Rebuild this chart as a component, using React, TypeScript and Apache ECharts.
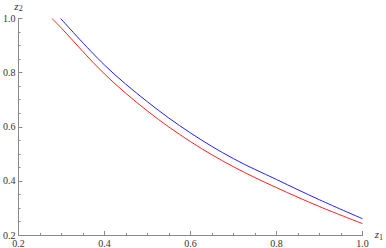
import React, { useEffect, useRef } from "react";
import * as echarts from "echarts";

const redX = [0.278, 0.3, 0.4, 0.5, 0.6, 0.7, 0.8, 0.9, 1.0];
const redY = [1.0, 0.964, 0.795, 0.658, 0.545, 0.452, 0.375, 0.305, 0.242];
const blueX = [0.298, 0.4, 0.5, 0.6, 0.7, 0.8, 0.9, 1.0];
const blueY = [1.0, 0.828, 0.692, 0.577, 0.482, 0.405, 0.33, 0.26];

const serif = "serif";
const axisColor = "#8a8a8a";
const labelColor = "#333";

export default function App() {
  const ref = useRef<HTMLDivElement>(null);
  useEffect(() => {
    if (!ref.current) return;
    const chart = echarts.init(ref.current, null, { renderer: "svg" });
    const nameRich = {
      i: { fontFamily: serif, fontStyle: "italic", fontSize: 11, color: labelColor },
      s: { fontFamily: serif, fontSize: 8, color: labelColor, verticalAlign: "bottom", padding: [6, 0, 0, 0] },
    };
    const common = {
      type: "value" as const,
      min: 0.2,
      max: 1.0,
      interval: 0.2,
      axisLine: { show: true, lineStyle: { color: axisColor, width: 1 } },
      axisTick: { show: true, inside: true, length: 4, lineStyle: { color: axisColor } },
      minorTick: { show: true, splitNumber: 4, length: 2, lineStyle: { color: axisColor } },
      splitLine: { show: false },
      axisLabel: {
        fontFamily: serif,
        fontSize: 10,
        color: labelColor,
        margin: 3,
        formatter: (v: number) => v.toFixed(1),
      },
    };
    chart.setOption({
      animation: false,
      textStyle: { fontFamily: serif },
      grid: { left: 16, right: 18, top: 18, bottom: 13, containLabel: false },
      xAxis: {
        ...common,
        name: "{i|z}{s|1}",
        nameLocation: "end",
        nameGap: 3,
        nameTextStyle: { fontFamily: serif, rich: nameRich, verticalAlign: "bottom", padding: [0, 0, -6, 0] },
      },
      yAxis: {
        ...common,
        name: "{i|z}{s|2}",
        nameLocation: "end",
        nameGap: 6,
        nameTextStyle: { fontFamily: serif, rich: nameRich, align: "center" },
      },
      series: [
        {
          type: "line",
          data: redX.map((x, i) => [x, redY[i]]),
          smooth: 0.35,
          showSymbol: false,
          lineStyle: { color: "#ff2020", width: 1 },
          itemStyle: { color: "#ff2020" },
        },
        {
          type: "line",
          data: blueX.map((x, i) => [x, blueY[i]]),
          smooth: 0.35,
          showSymbol: false,
          lineStyle: { color: "#2020ff", width: 1 },
          itemStyle: { color: "#2020ff" },
        },
      ],
    });
    return () => chart.dispose();
  }, []);
  return (
    <div
      ref={ref}
      style={{ position: "absolute", left: 0, top: 0, width: 386, height: 248, background: "#fff" }}
    />
  );
}
